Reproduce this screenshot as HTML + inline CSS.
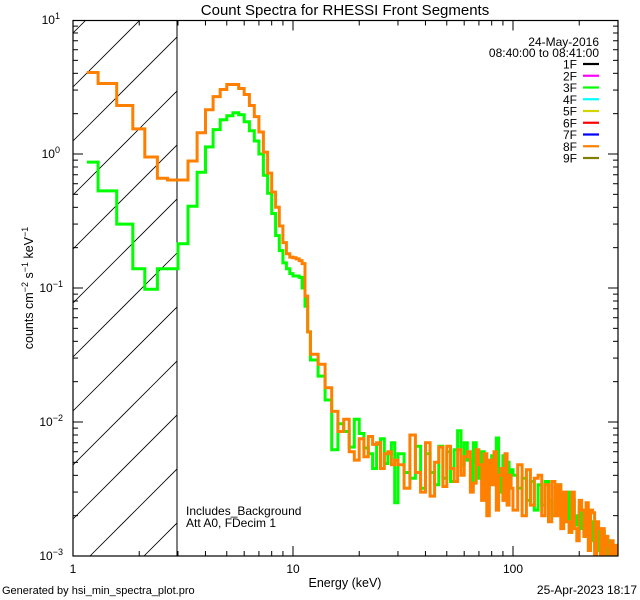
<!DOCTYPE html>
<html><head><meta charset="utf-8"><style>
html,body{margin:0;padding:0;background:#fff;width:640px;height:600px;overflow:hidden;}
svg{display:block;font-family:"Liberation Sans",sans-serif;}
</style></head><body>
<svg id="chart" width="640" height="600" viewBox="0 0 640 600">
<defs><clipPath id="plotclip"><rect x="73" y="20" width="545" height="536"/></clipPath>
<clipPath id="hatchclip"><rect x="73" y="20" width="104" height="536"/></clipPath></defs>
<rect x="0" y="0" width="640" height="600" fill="#fff"/>
<text x="345" y="15" text-anchor="middle" font-size="15">Count Spectra for RHESSI Front Segments</text>
<g id="hatch" clip-path="url(#hatchclip)"></g>
<line x1="177" y1="20" x2="177" y2="556" stroke="#000" stroke-width="1"/>
<g id="series" clip-path="url(#plotclip)"></g>
<rect x="73" y="20.5" width="545" height="535.5" fill="none" stroke="#000" stroke-width="1.2"/>
<g id="axes"></g>
<text transform="translate(33,288) rotate(-90)" text-anchor="middle" font-size="12.5">counts cm<tspan dy="-5" font-size="9">−2</tspan><tspan dy="5"> s</tspan><tspan dy="-5" font-size="9">−1</tspan><tspan dy="5"> keV</tspan><tspan dy="-5" font-size="9">−1</tspan></text>
<text x="345" y="587" text-anchor="middle" font-size="12.5">Energy (keV)</text>
<text x="186" y="515" font-size="12">Includes_Background</text>
<text x="186" y="527" font-size="12">Att A0, FDecim 1</text>
<text x="599" y="46" text-anchor="end" font-size="12">24-May-2016</text>
<text x="599" y="57" text-anchor="end" font-size="12">08:40:00 to 08:41:00</text>
<g id="legend"></g>
<text x="2" y="594" font-size="11">Generated by hsi_min_spectra_plot.pro</text>
<text x="637" y="594" text-anchor="end" font-size="12">25-Apr-2023 18:17</text>
</svg>
<script>
// low-energy bin edges (keV) and values
const lowEdges = [1.157,1.30,1.58,1.87,2.12,2.42,2.69,3.0];
const lowOrange = [4.06,3.36,2.30,1.54,0.95,0.66,0.64];
const lowGreen = [0.87,0.53,0.30,0.139,0.098,0.139,0.139];
// bin grid segments: [start, end, width]
const gridSegments = [[3,12,1/3],[12,30,1],[30,100,2],[100,300,5]];
const orangeVals = [
0.64,0.886,1.44,2.14,2.68,3.03,3.30,3.30,3.08,2.78,2.30,1.90,1.46,1.03,0.72,0.52,0.40,0.29,0.218,0.18,0.17,0.168,0.165,0.16,0.152,0.087,0.047,
0.032,0.027,0.018,0.012,0.0085,0.0105,0.006,0.0052,0.0075,0.0055,0.0078,0.0068,0.007,0.0045,0.0058,0.006,0.0048,0.0052,
0.0048,0.0032,0.0080,0.0042,0.0030,0.0070,0.0028,0.0050,0.0065,0.0033,0.0066,0.0045,0.0036,0.0062,0.0040,0.0055,0.0060,0.0030,0.0035,0.0062,0.0048,0.0026,0.0058,0.0020,0.0052,0.0034,0.0060,0.0022,0.0040,0.0045,0.0026,0.0058,0.0024,0.0040,0.0032,
0.0022,0.0048,0.0020,0.0044,0.0024,0.0038,0.0040,0.0020,0.0034,0.0018,0.0036,0.0020,0.0034,0.0016,0.0030,0.0018,0.0015,0.0030,0.0016,0.0013,0.0026,0.0022,0.0014,0.0025,0.0011,0.0022,0.0021,0.0010,0.0018,0.0016,0.0009,0.0016,0.0008,0.0014,0.0012,0.0008,0.0013,0.0009,0.0012,0.0008];
const greenVals = [
0.214,0.407,0.73,1.13,1.52,1.80,1.93,2.03,1.96,1.74,1.49,1.25,1.0,0.695,0.51,0.36,0.246,0.19,0.154,0.139,0.128,0.123,0.123,0.12,0.10,0.073,0.047,
0.029,0.022,0.0146,0.0062,0.0097,0.0085,0.0065,0.0105,0.0082,0.0064,0.0058,0.0045,0.0068,0.0075,0.0049,0.0058,0.0070,0.0025,
0.0058,0.0042,0.0038,0.0066,0.0032,0.0058,0.0042,0.0034,0.0066,0.0038,0.0060,0.0036,0.0062,0.0086,0.0048,0.0070,0.0052,0.0034,0.0070,0.0050,0.0038,0.0060,0.0042,0.0032,0.0048,0.0056,0.0046,0.0076,0.0040,0.0030,0.0056,0.0042,0.0050,0.0038,0.0044,
0.0040,0.0032,0.0038,0.0026,0.0036,0.0022,0.0034,0.0024,0.0036,0.0026,0.0020,0.0030,0.0034,0.0022,0.0018,0.0030,0.0015,0.0026,0.0020,0.0017,0.0023,0.0016,0.0014,0.0022,0.0016,0.0013,0.0018,0.0012,0.0016,0.0011,0.0012,0.0015,0.0011,0.0010,0.0013,0.0009,0.0012,0.0008,0.0012,0.0009];
const xTickLabels = ["1","10","100"];
const xTickValues = [1,10,100];
const yTickExps = [1,0,-1,-2,-3];
const legendLabels = ["1F","2F","3F","4F","5F","6F","7F","8F","9F"];
const legendColors = ["#000000","#ff00ff","#00ff00","#00ffff","#d4d400","#ff0000","#0000ff","#ff8000","#808000"];

const NS="http://www.w3.org/2000/svg";
function xs(e){return 73+220*Math.log10(e);}
function ys(v){return 154-134*Math.log10(v);}
function mk(tag,attrs,parent){const el=document.createElementNS(NS,tag);for(const k in attrs)el.setAttribute(k,attrs[k]);parent.appendChild(el);return el;}

const edges=[];
gridSegments.forEach(([a,b,w])=>{const n=Math.round((b-a)/w);for(let i=0;i<n;i++){edges.push(a+i*w);}});
edges.push(300);

function buildPath(lowE,lowV,vals){
  let d="";
  for(let i=0;i<lowV.length;i++){
    const x0=xs(lowE[i]),x1=xs(lowE[i+1]),y=ys(lowV[i]);
    d+=(i===0?"M":"L")+x0.toFixed(1)+","+y.toFixed(1)+"L"+x1.toFixed(1)+","+y.toFixed(1);
  }
  for(let i=0;i<vals.length;i++){
    const x0=xs(edges[i]),x1=xs(edges[i+1]),y=ys(vals[i]);
    d+="L"+x0.toFixed(1)+","+y.toFixed(1)+"L"+x1.toFixed(1)+","+y.toFixed(1);
  }
  return d;
}
const sg=document.getElementById("series");
const gp=mk("path",{d:buildPath(lowEdges,lowGreen,greenVals),fill:"none",stroke:"#00ff00","stroke-width":3,"stroke-linejoin":"miter"},sg);


const op=mk("path",{d:buildPath(lowEdges,lowOrange,orangeVals),fill:"none",stroke:"#ff8000","stroke-width":3,"stroke-linejoin":"miter"},sg);



const hg=document.getElementById("hatch");
for(let k=-12;k<12;k++){
  const c=195+54*k;
  const l=mk("line",{x1:73,y1:c,x2:73+600,y2:c-600,stroke:"#000","stroke-width":0.8},hg);
  
  
}

const ag=document.getElementById("axes");
for(let dec=0;dec<3;dec++){
  for(let m=1;m<10;m++){
    const e=Math.pow(10,dec)*m; if(e>300)break;
    const x=xs(e),len=m===1?10:5;
    const t1=mk("line",{x1:x,y1:556,x2:x,y2:556-len,stroke:"#000","stroke-width":1},ag);
    
    
    const t2=mk("line",{x1:x,y1:20.5,x2:x,y2:20.5+len,stroke:"#000","stroke-width":1},ag);
    
    
  }
}
xTickValues.forEach((v,i)=>{
  const t=mk("text",{x:xs(v),y:573,"text-anchor":"middle","font-size":12},ag);
  t.textContent=xTickLabels[i];
  
  
});
for(let ex=-3;ex<1;ex++){
  for(let m=1;m<10;m++){
    const v=Math.pow(10,ex)*m; const y=ys(v); const len=m===1?10:5;
    const t1=mk("line",{x1:73,y1:y,x2:73+len,y2:y,stroke:"#000","stroke-width":1},ag);
    
    
    const t2=mk("line",{x1:618,y1:y,x2:618-len,y2:y,stroke:"#000","stroke-width":1},ag);
    
    
  }
}
yTickExps.forEach(ex=>{
  const y=ys(Math.pow(10,ex));
  const t=mk("text",{x:ex<0?63:60,y:y+4,"text-anchor":"end","font-size":12},ag);
  t.textContent="10";
  const s=mk("tspan",{dy:-5,"font-size":9},t);
  s.textContent=ex<0?"−"+(-ex):String(ex);
  
  
});

const lg=document.getElementById("legend");
legendLabels.forEach((lab,i)=>{
  const y=64+i*11.75;
  const t=mk("text",{x:577,y:y+4.5,"text-anchor":"end","font-size":12},lg);
  t.textContent=lab;
  
  
  const l=mk("line",{x1:583,y1:y,x2:599,y2:y,stroke:legendColors[i],"stroke-width":2.2},lg);
  
  
});
</script>
</body></html>
